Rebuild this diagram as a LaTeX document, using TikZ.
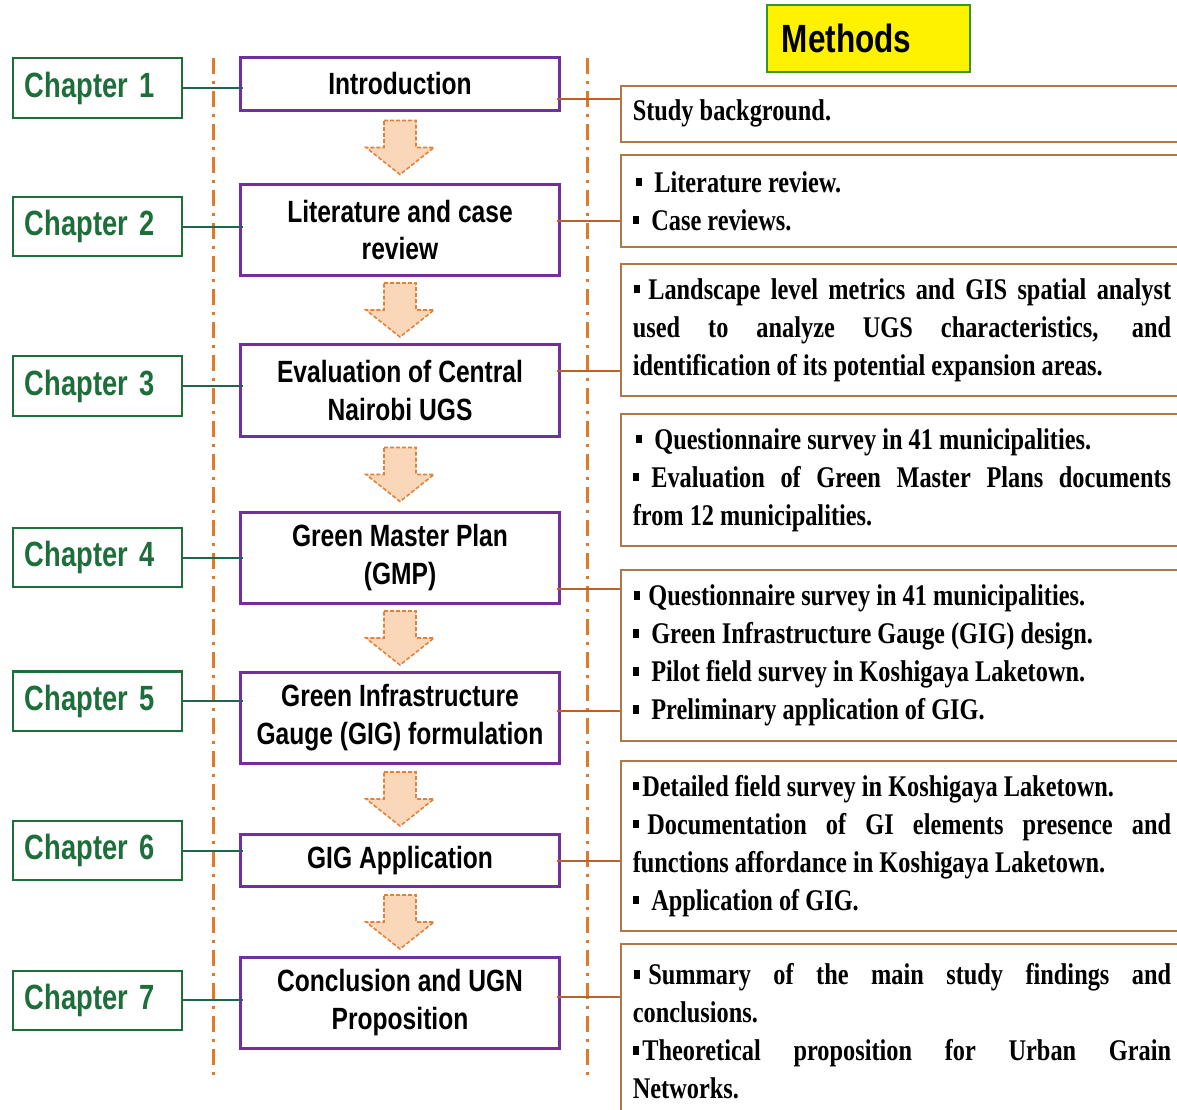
\documentclass[tikz,border=0pt]{standalone}
\usepackage{xcolor}
\usepackage{fontspec}
\usepackage{tikz}
\usetikzlibrary{calc}
\newfontfamily\chapfont[FakeStretch=0.78]{Liberation Sans}
\newfontfamily\boxfont[FakeStretch=0.8]{Liberation Sans}
\newfontfamily\methfont[FakeStretch=0.81]{Liberation Serif}
\definecolor{chapgreen}{RGB}{30,110,60}
\definecolor{linkgreen}{RGB}{30,100,80}
\definecolor{boxpurple}{RGB}{112,48,160}
\definecolor{guideorange}{RGB}{222,122,40}
\definecolor{methbrown}{RGB}{175,120,70}
\definecolor{linkbrown}{RGB}{190,95,40}
\definecolor{arrowfill}{RGB}{250,215,185}
\definecolor{arrowedge}{RGB}{225,130,60}
\definecolor{titlegreen}{RGB}{50,150,40}
\newcommand{\sqb}{\rule[0.06cm]{0.065cm}{0.085cm}}
\newcommand{\wbul}{\kern0.03cm\sqb\kern0.12cm}
\newcommand{\nbul}{\kern0.01cm\sqb\kern0.08cm}
\newcommand{\tbul}{\sqb\kern0.03cm}
\tikzstyle{chapbox} = [draw=chapgreen, line width=0.57pt, rectangle, minimum width=1.69cm, minimum height=0.59cm, text width=1.45cm, inner xsep=0.12cm, align=left, text=chapgreen, font=\chapfont\bfseries\fontsize{9.96}{12}\selectfont]
\tikzstyle{stagebox} = [draw=boxpurple, line width=0.85pt, rectangle, minimum width=3.18cm, align=center, font=\boxfont\bfseries\fontsize{8.74}{10.8}\selectfont]
\tikzstyle{methbox} = [draw=methbrown, line width=0.45pt, rectangle, text width=5.38cm, inner xsep=0.12cm, align=justify, anchor=north west, font=\methfont\bfseries\fontsize{8.54}{10.8}\selectfont]
\tikzstyle{titlebox} = [draw=titlegreen, line width=0.57pt, fill=yellow, minimum width=2.03cm, minimum height=0.67cm, text width=1.73cm, inner xsep=0.15cm, align=left, font=\boxfont\bfseries\fontsize{11.2}{12}\selectfont]
\tikzstyle{guide} = [draw=guideorange, line width=0.85pt, dash pattern=on 0.16cm off 0.07cm on 0.03cm off 0.07cm]
\tikzstyle{chaplink} = [draw=linkgreen, line width=0.57pt, shorten >=-0.04cm]
\tikzstyle{methlink} = [draw=linkbrown, line width=0.57pt, shorten <=-0.04cm]
\tikzstyle{flowarr} = [draw=arrowedge, fill=arrowfill, line width=0.45pt, dash pattern=on 0.04cm off 0.02cm]
% block arrow in the gap between two stages
\newcommand{\flowarrow}[2]{%
  \coordinate (fa) at ($(#1.south)!0.5!(#2.north)$);
  \draw[flowarr] (fa) ++(-16,-27) -- ++(32,0) -- ++(0,27) -- ++(18,0) -- ++(-34,27) -- ++(-34,-27) -- ++(18,0) -- cycle;}

\begin{document}
\begin{tikzpicture}[x=0.01cm, y=-0.01cm]
\useasboundingbox (0,0) rectangle (1177,1109);

% guide lines
\coordinate (lgtop) at (213,58);
\coordinate (lgbot) at (213,1078);
\coordinate (rgtop) at (587,58);
\coordinate (rgbot) at (587,1078);
\draw[guide] (lgtop) -- (lgbot);
\draw[guide] (rgtop) -- (rgbot);

% chapters
\node[chapbox] (ch1) at (97.5,88) {Chapter 1};
\node[chapbox] (ch2) at (97.5,226.5) {Chapter 2};
\node[chapbox] (ch3) at (97.5,386) {Chapter 3};
\node[chapbox] (ch4) at (97.5,557.5) {Chapter 4};
\node[chapbox] (ch5) at (97.5,701) {Chapter 5};
\node[chapbox] (ch6) at (97.5,850.5) {Chapter 6};
\node[chapbox] (ch7) at (97.5,1000) {Chapter 7};

% stages
\node[stagebox, minimum height=0.53cm] (intro) at (400,84) {Introduction};
\node[stagebox, minimum height=0.91cm] (lit) at (400,230) {Literature and case\\review};
\node[stagebox, minimum height=0.92cm] (eval) at (400,390.5) {Evaluation of Central\\Nairobi UGS};
\node[stagebox, minimum height=0.91cm] (gmp) at (400,558) {Green Master Plan\\(GMP)};
\node[stagebox, minimum height=0.91cm] (gigf) at (400,718) {Green Infrastructure\\Gauge (GIG) formulation};
\node[stagebox, minimum height=0.52cm] (giga) at (400,860.5) {GIG Application};
\node[stagebox, minimum height=0.91cm] (concl) at (400,1003) {Conclusion and UGN\\Proposition};

\flowarrow{intro}{lit}
\flowarrow{lit}{eval}
\flowarrow{eval}{gmp}
\flowarrow{gmp}{gigf}
\flowarrow{gigf}{giga}
\flowarrow{giga}{concl}

% methods
\node[titlebox] (methods) at (868.5,38.5) {Methods};
\node[methbox, minimum height=0.56cm] (m1) at (620,85) {Study background.};
\node[methbox, minimum height=0.92cm] (m2) at (620,154) {\wbul Literature review.\\ \wbul Case reviews.};
\node[methbox, minimum height=1.32cm] (m3) at (620,263) {\nbul Landscape level metrics and GIS spatial analyst\linebreak used to analyze UGS characteristics, and\linebreak identification of its potential expansion areas.};
\node[methbox, minimum height=1.32cm] (m4) at (620,413) {\wbul Questionnaire survey in 41 municipalities.\\ \wbul Evaluation of Green Master Plans documents\linebreak from 12 municipalities.};
\node[methbox, minimum height=1.71cm] (m5) at (620,569) {\nbul Questionnaire survey in 41 municipalities.\\ \wbul Green Infrastructure Gauge (GIG) design.\\ \wbul Pilot field survey in Koshigaya Laketown.\\ \wbul Preliminary application of GIG.};
\node[methbox, minimum height=1.70cm] (m6) at (620,760) {\tbul Detailed field survey in Koshigaya Laketown.\\ \nbul Documentation of GI elements presence and\linebreak functions affordance in Koshigaya Laketown.\\ \wbul Application of GIG.};
\node[methbox, minimum height=1.75cm] (m7) at (620,943) {\nbul Summary of the main study findings and\linebreak conclusions.\\ \tbul Theoretical proposition for Urban Grain\linebreak Networks.};

% chapter links
\draw[chaplink] (ch1.east) -- (ch1.east -| intro.west);
\draw[chaplink] (ch2.east) -- (ch2.east -| lit.west);
\draw[chaplink] (ch3.east) -- (ch3.east -| eval.west);
\draw[chaplink] (ch4.east) -- (ch4.east -| gmp.west);
\draw[chaplink] (ch5.east) -- (ch5.east -| gigf.west);
\draw[chaplink] (ch6.east) -- (ch6.east -| giga.west);
\draw[chaplink] (ch7.east) -- (ch7.east -| concl.west);

% method links
\coordinate (r1) at ($(intro.east)+(0,15)$);
\coordinate (r2) at ($(lit.east)+(0,-9)$);
\coordinate (r3) at ($(eval.east)+(0,-20)$);
\coordinate (r4) at ($(gmp.east)+(0,31)$);
\coordinate (r5) at ($(gigf.east)+(0,-7)$);
\coordinate (r6) at ($(giga.east)+(0,0)$);
\coordinate (r7) at ($(concl.east)+(0,-6)$);
\draw[methlink] (r1) -- (r1 -| m1.west);
\draw[methlink] (r2) -- (r2 -| m2.west);
\draw[methlink] (r3) -- (r3 -| m3.west);
\draw[methlink] (r4) -- (r4 -| m5.west);
\draw[methlink] (r5) -- (r5 -| m5.west);
\draw[methlink] (r6) -- (r6 -| m6.west);
\draw[methlink] (r7) -- (r7 -| m7.west);
\end{tikzpicture}
\end{document}
